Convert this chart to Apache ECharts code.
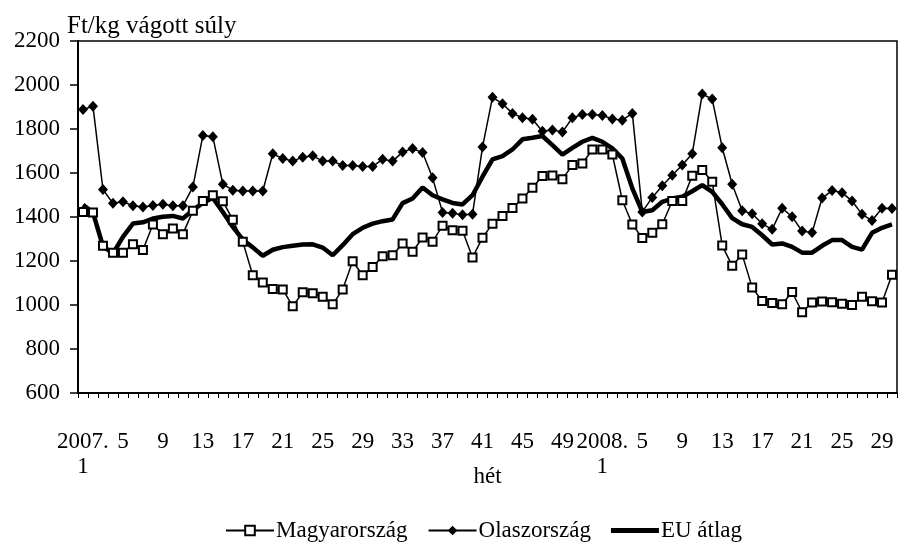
<!DOCTYPE html>
<html>
<head>
<meta charset="utf-8">
<script src="https://cdn.jsdelivr.net/npm/echarts@6/dist/echarts.min.js"></script>
<style>
html,body{margin:0;padding:0;background:#fff;}
#c{width:898px;height:548px;}
</style>
</head>
<body>
<div id="c"></div>
<script>
var weeks = ["2007.\n1","2","3","4","5","6","7","8","9","10","11","12","13","14","15","16","17","18","19","20","21","22","23","24","25","26","27","28","29","30","31","32","33","34","35","36","37","38","39","40","41","42","43","44","45","46","47","48","49","50","51","52",
"2008.\n1","2","3","4","5","6","7","8","9","10","11","12","13","14","15","16","17","18","19","20","21","22","23","24","25","26","27","28","29","30"];

var magyarorszag = [1423,1420,1269,1238,1238,1276,1250,1366,1322,1348,1322,1428,1473,1499,1472,1387,1287,1135,1102,1073,
1071,994,1058,1053,1037,1003,1070,1199,1135,1173,1222,1226,1280,1242,1307,1288,1360,1340,1338,1216,
1306,1369,1404,1441,1484,1533,1586,1589,1572,1636,1643,1707,1707,1684,1476,1366,1305,1328,1367,1473,
1473,1588,1614,1560,1270,1178,1229,1079,1018,1009,1003,1059,967,1011,1016,1012,1006,1000,1037,1017,1011,1138];

var olaszorszag = [1889,1903,1525,1462,1469,1451,1445,1452,1458,1451,1451,1536,1770,1765,1549,1522,1518,1518,1518,1687,
1666,1654,1672,1678,1654,1654,1634,1634,1630,1630,1662,1654,1695,1711,1693,1578,1421,1417,1410,1413,
1718,1944,1915,1871,1851,1844,1790,1796,1786,1851,1866,1866,1861,1846,1840,1871,1423,1489,1542,1590,
1636,1688,1959,1936,1715,1549,1428,1415,1369,1344,1440,1401,1336,1329,1486,1520,1510,1473,1412,1384,1440,1439];

var euAtlag = [1455,1420,1267,1234,1310,1370,1376,1393,1401,1405,1393,1431,1464,1487,1423,1355,1297,1262,1224,1251,
1263,1269,1275,1276,1261,1226,1272,1322,1351,1370,1381,1389,1463,1484,1534,1499,1480,1464,1457,1499,
1583,1662,1677,1707,1753,1760,1768,1727,1684,1714,1742,1760,1742,1712,1666,1530,1423,1431,1469,1484,
1492,1517,1545,1514,1458,1395,1367,1355,1317,1275,1280,1264,1238,1238,1269,1295,1295,1264,1252,1328,1351,1366];

var FONT = "'Liberation Serif','Times New Roman',serif";
var chart = echarts.init(document.getElementById('c'), null, {renderer:'canvas'});
chart.setOption({
  animation:false,
  backgroundColor:'#fff',
  textStyle:{fontFamily:FONT,color:'#000'},
  title:{text:'Ft/kg vágott súly',left:62,top:9,textStyle:{fontFamily:FONT,fontSize:25,fontWeight:'normal',color:'#000'}},
  grid:{left:78,right:1,top:41,bottom:155,show:true,borderColor:'#000',borderWidth:1.5,backgroundColor:'transparent'},
  legend:{
    data:['Magyarország','Olaszország',{name:'EU átlag',icon:'path://M0,0H46V5H0Z'}],
    bottom:1, left:220,
    itemWidth:48,itemHeight:12,itemGap:20,
    textStyle:{fontFamily:FONT,fontSize:23,color:'#000',padding:[0,0,0,-3]}
  },
  xAxis:{
    type:'category',data:weeks,boundaryGap:true,
    name:'hét',nameLocation:'middle',nameGap:72,nameMoveOverlap:false,
    nameTextStyle:{fontFamily:FONT,fontSize:23,color:'#000'},
    axisLine:{lineStyle:{color:'#000',width:2}},
    axisTick:{show:true,interval:0,length:5,lineStyle:{color:'#000',width:1}},
    axisLabel:{interval:3,margin:36,fontFamily:FONT,fontSize:23,lineHeight:25,color:'#000'},
    splitLine:{show:false}
  },
  yAxis:{
    type:'value',min:600,max:2200,interval:200,
    axisLine:{show:true,lineStyle:{color:'#000',width:2}},
    axisTick:{show:true,length:8,lineStyle:{color:'#000',width:1.5}},
    axisLabel:{margin:18,fontFamily:FONT,fontSize:23,color:'#000',formatter:function(v){return String(v);}},
    splitLine:{show:false}
  },
  series:[
    {name:'EU átlag',type:'line',data:euAtlag,z:2,showSymbol:false,symbol:'none',
     lineStyle:{color:'#000',width:4.5},itemStyle:{color:'#000'}},
    {name:'Magyarország',type:'line',data:magyarorszag,z:3,symbol:'rect',symbolSize:8,showAllSymbol:true,
     lineStyle:{color:'#000',width:1.5},itemStyle:{color:'#fff',borderColor:'#000',borderWidth:2}},
    {name:'Olaszország',type:'line',data:olaszorszag,z:4,symbol:'diamond',symbolSize:[10,11],showAllSymbol:true,
     lineStyle:{color:'#000',width:1.5},itemStyle:{color:'#000',borderColor:'#000',borderWidth:0}}
  ]
});
</script>
</body>
</html>
